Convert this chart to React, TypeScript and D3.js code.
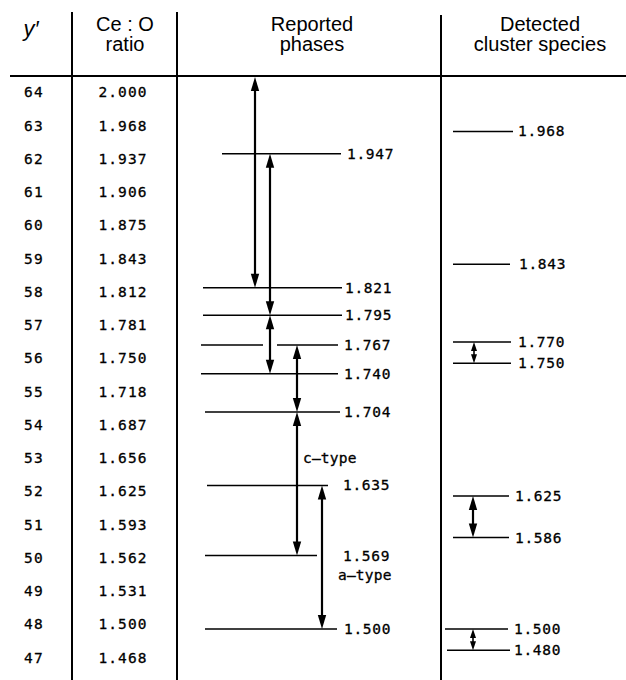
import React from "react";
import * as d3 from "d3";

// ---------- data ----------
const yPrimeLabels = ["64", "63", "62", "61", "60", "59", "58", "57", "56", "55", "54", "53", "52", "51", "50", "49", "48", "47"];
const ratioLabels = ["2.000", "1.968", "1.937", "1.906", "1.875", "1.843", "1.812", "1.781", "1.750", "1.718", "1.687", "1.656", "1.625", "1.593", "1.562", "1.531", "1.500", "1.468"];

const reportedLevels = [1.947, 1.821, 1.795, 1.767, 1.74, 1.704, 1.635, 1.569, 1.5];
const reportedRanges: [number, number][] = [
  [2.0, 1.821],
  [1.947, 1.795],
  [1.795, 1.74],
  [1.767, 1.704],
  [1.704, 1.569],
  [1.635, 1.5],
];
const phaseTypeLabels = [
  { text: "c\u2013type", at: 1.661 },
  { text: "a\u2013type", at: 1.551 },
];

const detectedLevels = [1.968, 1.843, 1.77, 1.75, 1.625, 1.586, 1.5, 1.48];
const detectedRanges: [number, number][] = [
  [1.77, 1.75],
  [1.625, 1.586],
  [1.5, 1.48],
];

const headerCols = [
  { lines: ["y\u2032"], italic: true },
  { lines: ["Ce : O", "ratio"], italic: false },
  { lines: ["Reported", "phases"], italic: false },
  { lines: ["Detected", "cluster species"], italic: false },
];

// ---------- layout (positions / styles, kept apart from the data) ----------
const W = 626;
const H = 680;
const headerLineY = 76;
const colLines = [
  { x: 72, top: 12 },
  { x: 177, top: 12 },
  { x: 441, top: 15 },
];
const headerCenters = [31, 125, 312, 540];
const headerBaselines = [31, 51];

const reportedLineLayout = [
  { segs: [[222, 341]], lx: 347 },
  { segs: [[203, 342]], lx: 345 },
  { segs: [[203, 342]], lx: 345 },
  { segs: [[201, 263], [277, 338]], lx: 344 },
  { segs: [[201, 338]], lx: 344 },
  { segs: [[205, 340]], lx: 344 },
  { segs: [[207, 328]], lx: 343 },
  { segs: [[205, 317]], lx: 343 },
  { segs: [[205, 337]], lx: 344 },
];
const reportedArrowX = [255, 270, 270, 297, 297, 322];
const typeLabelX = [303, 338];

const detectedLineLayout = [
  { segs: [[453, 513]], lx: 518 },
  { segs: [[453, 510]], lx: 519 },
  { segs: [[453, 511]], lx: 518 },
  { segs: [[453, 511]], lx: 518 },
  { segs: [[453, 509]], lx: 515 },
  { segs: [[453, 509]], lx: 515 },
  { segs: [[445, 508]], lx: 514 },
  { segs: [[447, 510]], lx: 514 },
];
const detectedArrowX = [474, 473, 473];
const detectedArrowHead = [
  { len: 9, hw: 3, sw: 1.6 },
  { len: 14, hw: 4.2, sw: 2.2 },
  { len: 9, hw: 3, sw: 1.6 },
];

const numFont = "'DejaVu Sans Mono', monospace";
const headFont = "'Liberation Sans', Arial, sans-serif";
const numStroke = 0.3;

const y = d3.scaleLinear().domain([2.0, 1.468]).range([97.4, 663]);
const ratioMax = 2.0;

function DoubleArrow({ x, r1, r2, len, hw, sw }: { x: number; r1: number; r2: number; len: number; hw: number; sw: number }) {
  const yTop = r1 >= ratioMax ? headerLineY + 1 : y(r1);
  const yBot = y(r2);
  const up = d3.path();
  up.moveTo(x, yTop);
  up.lineTo(x - hw, yTop + len);
  up.lineTo(x + hw, yTop + len);
  up.closePath();
  const down = d3.path();
  down.moveTo(x, yBot);
  down.lineTo(x - hw, yBot - len);
  down.lineTo(x + hw, yBot - len);
  down.closePath();
  return (
    <g>
      <line x1={x} x2={x} y1={yTop + len - 2} y2={yBot - len + 2} stroke="#000" strokeWidth={sw} />
      <path d={up.toString()} fill="#000" />
      <path d={down.toString()} fill="#000" />
    </g>
  );
}

function Num({ x, yy, anchor, ls, children }: { x: number; yy: number; anchor?: string; ls: number; children: React.ReactNode }) {
  return (
    <text
      x={x}
      y={yy}
      textAnchor={anchor || "start"}
      fontFamily={numFont}
      fontSize={14.5}
      letterSpacing={ls}
      fill="#000"
      stroke="#000"
      strokeWidth={numStroke}
    >
      {children}
    </text>
  );
}

export default function App() {
  return (
    <svg
      width={W}
      height={H}
      viewBox={`0 0 ${W} ${H}`}
      style={{ position: "absolute", left: 0, top: 0, background: "#fff" }}
    >
      <rect x={0} y={0} width={W} height={H} fill="#fff" />
      {/* header */}
      {headerCols.map((c, i) =>
        c.italic ? (
          <text
            key={i}
            x={headerCenters[i]}
            y={36}
            textAnchor="middle"
            fontFamily={headFont}
            fontStyle="italic"
            fontSize={22}
            fill="#000"
          >
            {c.lines[0]}
          </text>
        ) : (
          c.lines.map((t, j) => (
            <text
              key={`${i}-${j}`}
              x={headerCenters[i]}
              y={headerBaselines[j]}
              textAnchor="middle"
              fontFamily={headFont}
              fontSize={20}
              fill="#000"
            >
              {t}
            </text>
          ))
        )
      )}
      <line x1={10} x2={W} y1={headerLineY} y2={headerLineY} stroke="#000" strokeWidth={2} />
      {colLines.map((c, i) => (
        <line key={i} x1={c.x} x2={c.x} y1={c.top} y2={H} stroke="#000" strokeWidth={2} />
      ))}

      {/* row labels */}
      {yPrimeLabels.map((t, i) => (
        <Num key={`yp${i}`} x={34} yy={y(+ratioLabels[i])} anchor="middle" ls={1.2}>
          {t}
        </Num>
      ))}
      {ratioLabels.map((t, i) => (
        <Num key={`r${i}`} x={123} yy={y(+t)} anchor="middle" ls={1.1}>
          {t}
        </Num>
      ))}

      {/* reported phases */}
      {reportedLevels.map((v, i) => (
        <g key={`rl${i}`}>
          {reportedLineLayout[i].segs.map((s, k) => (
            <line key={k} x1={s[0]} x2={s[1]} y1={y(v)} y2={y(v)} stroke="#000" strokeWidth={1.5} />
          ))}
          <Num x={reportedLineLayout[i].lx} yy={y(v) + 5} ls={0.7}>
            {v.toFixed(3)}
          </Num>
        </g>
      ))}
      {reportedRanges.map((r, i) => (
        <DoubleArrow key={`ra${i}`} x={reportedArrowX[i]} r1={r[0]} r2={r[1]} len={14} hw={4.2} sw={2.2} />
      ))}
      {phaseTypeLabels.map((p, i) => (
        <Num key={`pt${i}`} x={typeLabelX[i]} yy={y(p.at) + 5} ls={0.2}>
          {p.text}
        </Num>
      ))}

      {/* detected cluster species */}
      {detectedLevels.map((v, i) => (
        <g key={`dl${i}`}>
          {detectedLineLayout[i].segs.map((s, k) => (
            <line key={k} x1={s[0]} x2={s[1]} y1={y(v)} y2={y(v)} stroke="#000" strokeWidth={1.5} />
          ))}
          <Num x={detectedLineLayout[i].lx} yy={y(v) + 5} ls={0.7}>
            {v.toFixed(3)}
          </Num>
        </g>
      ))}
      {detectedRanges.map((r, i) => (
        <DoubleArrow
          key={`da${i}`}
          x={detectedArrowX[i]}
          r1={r[0]}
          r2={r[1]}
          len={detectedArrowHead[i].len}
          hw={detectedArrowHead[i].hw}
          sw={detectedArrowHead[i].sw}
        />
      ))}
    </svg>
  );
}
